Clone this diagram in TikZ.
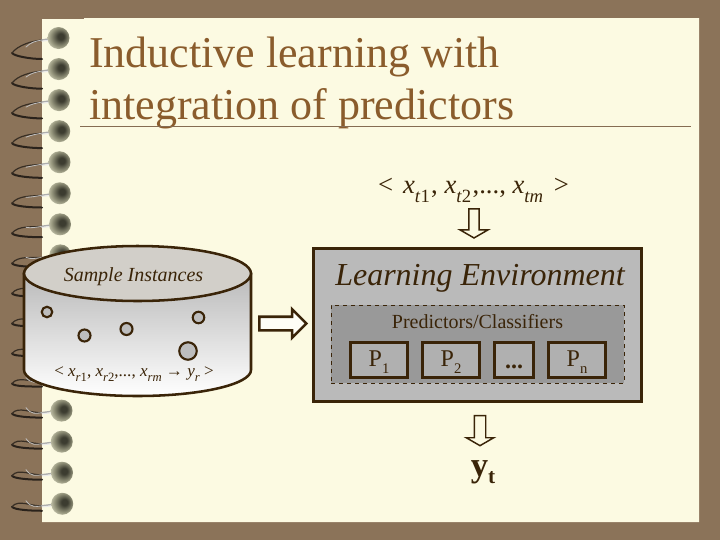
\documentclass[tikz,border=0pt]{standalone}
\usepackage{fontspec}
\setmainfont{Liberation Serif}
\usetikzlibrary{shapes.arrows}
\definecolor{bgbrown}{HTML}{8B7359}
\definecolor{paper}{HTML}{FCFAE2}
\definecolor{ink}{HTML}{3A2408}
\definecolor{titlecol}{HTML}{8A5C2C}
\definecolor{ballD}{HTML}{3C3C30}
\definecolor{ballM}{HTML}{97977E}
\definecolor{ballL}{HTML}{E4E3CC}
\pgfdeclareradialshading{ringball}{\pgfpoint{6bp}{4bp}}{color(0bp)=(ballD);color(7bp)=(ballD);color(22bp)=(ballM);color(35bp)=(ballL);color(48bp)=(paper);color(50bp)=(paper)}
\newcommand{\subt}[1]{\raisebox{-.36em}{\fontsize{14}{14}\selectfont #1}}
\newcommand{\subr}[1]{\raisebox{-.3em}{\fontsize{9.5}{9.5}\selectfont #1}}
\tikzset{
  blockarrow/.style={shape=single arrow,draw=ink,fill=paper,inner sep=0pt,outer sep=0pt,
     single arrow head indent=0pt},
  pbox/.style={draw=ink,line width=1.9pt,fill=black!31,inner sep=0pt,outer sep=0pt,minimum height=26.6pt,text=ink},
  dot/.style={draw=ink,line width=1.6pt,fill=black!26,shape=circle,inner sep=0pt,outer sep=0pt},
  inktext/.style={text=ink,inner sep=0pt,outer sep=0pt}
}
\begin{document}
\begin{tikzpicture}[x=0.75pt,y=-0.75pt]
\useasboundingbox (0,0) rectangle (720,540);
\fill[bgbrown] (0,0) rectangle (720,540);
\fill[paper] (42,19) -- (84,19) -- (84,18) -- (699,18) -- (699,522) -- (42,522) -- cycle;
% spiral binding
\foreach \i in {0,...,15}{
  \pgfmathsetmacro{\yy}{38+31.05*\i}
  \pgfmathsetmacro{\bx}{58.5+0.25*\i}
  \pgfmathsetmacro{\dropp}{max(0,12-1.0*\i)}
  \pgfmathsetmacro{\ret}{max(7,21-1.35*\i)}
  \draw[black!70!bgbrown,line width=1.5pt,line cap=round]
     (42,\yy+\ret) .. controls (30,\yy+\ret) and (14,\yy+\dropp+6) .. (12,\yy+\dropp+3);
  \draw[black!60!bgbrown,line width=.9pt,line cap=round]
     (12,\yy+\dropp+3) .. controls (18,\yy+\dropp-5) and (32,\yy+3) .. (42,\yy+2);
  \draw[white!75!black,line width=0.6pt,line cap=round] (26,\yy+\dropp-3) .. controls (31,\yy+4) and (36,\yy+3) .. (42,\yy+2);
  \draw[black!32,line width=1.1pt,line cap=round] (42,\yy+2) -- (\bx-4,\yy);
  \draw[black!8,line width=.8pt,line cap=round] (42,\yy+3.2) -- (\bx-4,\yy+1.5);
  \shade[shading=ringball] (\bx,\yy) circle (11);
}
% title
\node[anchor=base west,inner sep=0pt,outer sep=0pt,text=titlecol,font=\fontsize{33}{33}\selectfont] (t1) at (89,67) {Inductive learning with};
\node[anchor=base west,inner sep=0pt,outer sep=0pt,text=titlecol,font=\fontsize{33}{33}\selectfont] (t2) at (89,119) {integration of predictors};
\draw[titlecol!55!gray,line width=.5pt] (80,126.5) -- (691,126.5);
% cylinder
\shade[top color=black!27,bottom color=white,draw=ink,line width=1.9pt]
  (24,274) -- (24,370) .. controls (24,384.3) and (74.8,396) .. (137.5,396)
  .. controls (200.2,396) and (251,384.3) .. (251,370) -- (251,274) -- cycle;
\draw[ink,line width=1.9pt,fill={rgb,255:red,210;green,207;blue,201}]
  (137.5,273.5) ellipse [x radius=113.5,y radius=27.5];
\node[inktext,font=\itshape\fontsize{15}{15}\selectfont] (sample) at (133.5,276.5) {Sample Instances};
\node[dot,minimum size=10.5*0.75pt] (d1) at (47,312) {};
\node[dot,minimum size=12*0.75pt] (d2) at (84.5,335.5) {};
\node[dot,minimum size=12*0.75pt] (d3) at (126.5,329) {};
\node[dot,minimum size=11.5*0.75pt] (d4) at (198.5,317.5) {};
\node[dot,minimum size=17.5*0.75pt] (d5) at (188,351) {};
\node[inktext,font=\fontsize{12.8}{12.8}\selectfont] (rform) at (134,374)
  {< \textit{x}\subr{\textit{r}1}, \textit{x}\subr{\textit{r}2},..., \textit{x}\subr{\textit{rm}} → \textit{y}\subr{\textit{r}} >};
% learning environment
\node[draw=ink,line width=2.3pt,fill=black!27,minimum width=328*.75pt,minimum height=153*.75pt,inner sep=0pt,outer sep=0pt] (env) at (477.5,325) {};
\node[inktext,font=\itshape\fontsize{24}{24}\selectfont] (envt) at (480,278) {Learning Environment};
\node[draw=ink,dashed,line width=.6pt,fill=black!40,minimum width=293*.75pt,minimum height=78*.75pt,inner sep=0pt,outer sep=0pt] (pred) at (477.5,344) {};
\node[inktext,font=\fontsize{15}{15}\selectfont] (predt) at (477.5,321.5) {Predictors/Classifiers};
\node[pbox,minimum width=57.5*.75pt] (p1) at (379,360) {};
\node[pbox,minimum width=57.5*.75pt] (p2) at (451,360) {};
\node[pbox,minimum width=39.5*.75pt] (p3) at (514,360) {};
\node[pbox,minimum width=57.5*.75pt] (p4) at (577,360) {};
\node[inktext,font=\fontsize{18}{18}\selectfont] (p1t) at (379,362) {P\raisebox{-.3em}{\fontsize{11}{11}\selectfont 1}};
\node[inktext,font=\fontsize{18}{18}\selectfont] (p2t) at (451,362) {P\raisebox{-.3em}{\fontsize{11}{11}\selectfont 2}};
\node[inktext,anchor=base,font=\bfseries\fontsize{18}{18}\selectfont] (p3t) at (514,368) {...};
\node[inktext,font=\fontsize{18}{18}\selectfont] (p4t) at (577,362) {P\raisebox{-.3em}{\fontsize{11}{11}\selectfont n}};
% upper formula
\node[inktext,anchor=base,font=\fontsize{20}{20}\selectfont] (tform) at (473.5,193)
  {<\hspace{.12em} \textit{x}\subt{\textit{t}1}\hspace{.05em}, \textit{x}\subt{\textit{t}2}\hspace{.05em},..., \textit{x}\subt{\textit{tm}}\hspace{.15em} >};
\node[blockarrow,line width=1.1pt,minimum height=29*.75pt,inner ysep=4.3*.75pt,single arrow head extend=9*.75pt,single arrow tip angle=120,rotate=-90] (a1) at (474,222) {};
% output
\node[blockarrow,line width=1.1pt,minimum height=30*.75pt,inner ysep=5*.75pt,single arrow head extend=8*.75pt,single arrow tip angle=120,rotate=-90] (a2) at (480,429) {};
\node[inktext,text=ink,font=\bfseries\fontsize{26}{26}\selectfont] (yt) at (483,472) {y\raisebox{-.2em}{\fontsize{16}{16}\selectfont t}};
% middle arrow
\node[blockarrow,fill=paper!30!white,line width=1.9pt,minimum height=47*.75pt,inner ysep=5.5*.75pt,single arrow head extend=7.5*.75pt] (a3) at (279.5,323.5) {};
\end{tikzpicture}
\end{document}
